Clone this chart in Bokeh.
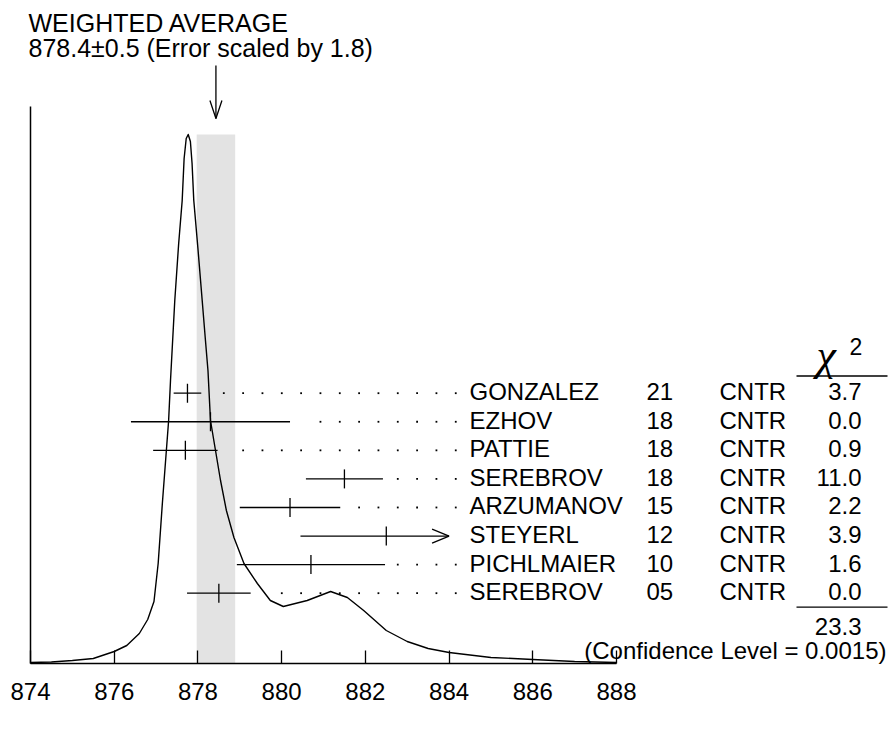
from bokeh.plotting import figure
from bokeh.models import Range1d, LinearAxis, FixedTicker
from bokeh.core.properties import value
from bokeh.embed import file_html
from bokeh.resources import INLINE

# ---------------- data ----------------
names = ["GONZALEZ", "EZHOV", "PATTIE", "SEREBROV", "ARZUMANOV", "STEYERL", "PICHLMAIER", "SEREBROV"]
years = ["21", "18", "18", "18", "15", "12", "10", "05"]
techs = ["CNTR", "CNTR", "CNTR", "CNTR", "CNTR", "CNTR", "CNTR", "CNTR"]
meas = [877.75, 878.3, 877.7, 881.5, 880.2, 882.5, 880.7, 878.5]
errs = [0.33, 1.9, 0.77, 0.92, 1.2, 2.05, 1.77, 0.76]
chi2 = ["3.7", "0.0", "0.9", "11.0", "2.2", "3.9", "1.6", "0.0"]
chi2_total = "23.3"
conf_text = "(Confidence Level = 0.0015)"
avg_value = 878.43
avg_err = 0.46
title1 = "WEIGHTED AVERAGE"
title2 = "878.4\u00b10.5 (Error scaled by 1.8)"
ticks = [874, 876, 878, 880, 882, 884, 886, 888]

# ideogram curve (x in units of the axis, height in arbitrary units)
curve_x = [874.0, 874.5, 875.0, 875.5, 876.0, 876.3, 876.6, 876.8, 876.95, 877.05, 877.15,
           877.30, 877.345, 877.447, 877.54, 877.624, 877.67, 877.72, 877.768, 877.82,
           877.86, 877.901, 878.0, 878.102, 878.18, 878.24, 878.30, 878.42, 878.54, 878.68,
           878.86, 879.10, 879.42, 879.73, 880.04, 880.61, 881.17, 881.57, 881.96, 882.5,
           883.0, 883.5, 884.0, 885.0, 886.0, 887.0, 888.0]
curve_y = [1, 1.5, 3, 5, 12, 18, 30, 44, 62, 100, 160,
           243, 283, 363, 420, 463, 505, 525, 529, 522,
           500, 463, 415, 363, 323, 293, 243, 213, 183, 153,
           126, 100, 80, 63, 57, 63, 72, 66, 53, 33,
           22, 15, 11, 6, 4, 2, 1]

# ---------------- layout helpers (page pixel -> plot coordinates) ----------------
PXU = 41.857          # pixels per axis unit
def X(ix):
    return 874 + (ix - 30) / PXU
def Y(iy):
    return 663 - iy

SH = 9   # baseline correction for text glyphs (px)
def TY(iy):
    return Y(iy) + SH

W, H = 888, 729
FONT = value("Liberation Sans")
FS = value("24px")

p = figure(width=W, height=H, output_backend="svg", toolbar_location=None,
           x_range=Range1d(X(0), X(W)), y_range=Range1d(Y(H), Y(0)),
           x_axis_type=None, y_axis_type=None,
           min_border_left=0, min_border_right=0, min_border_top=0, min_border_bottom=0)
p.outline_line_color = None
p.background_fill_color = "white"
p.border_fill_color = "white"

axis = LinearAxis(ticker=FixedTicker(ticks=ticks), bounds=(ticks[0], ticks[-1]), fixed_location=0,
                  major_tick_in=13, major_tick_out=0, minor_tick_line_color=None,
                  axis_line_width=1.5, axis_line_color="black",
                  major_tick_line_width=1.3, major_tick_line_color="black",
                  major_label_text_font="Liberation Sans", major_label_text_font_size="24px",
                  major_label_text_color="black", major_label_standoff=19)
p.add_layout(axis, "below")

# left axis line
p.segment(x0=[ticks[0]], y0=[0], x1=[ticks[0]], y1=[Y(106)], line_color="black", line_width=1.5)

# weighted-average band
peak = max(curve_y)
p.quad(left=[avg_value - avg_err], right=[avg_value + avg_err], bottom=[0], top=[peak],
       fill_color="#e3e3e3", line_color=None)

# ideogram
p.line(curve_x, curve_y, line_color="black", line_width=1.4, line_join="round")

# arrow marking the average
ah = 6 / PXU
p.segment(x0=[avg_value], y0=[Y(65)], x1=[avg_value], y1=[Y(118)], line_color="black", line_width=1.3)
p.segment(x0=[avg_value - ah, avg_value + ah], y0=[Y(100), Y(100)],
          x1=[avg_value, avg_value], y1=[Y(118), Y(118)], line_color="black", line_width=1.3)

# measurements
row0 = Y(392.7)
dy = 28.57
rows = [row0 - i * dy for i in range(len(names))]
clip = 884.0
dot_start = X(223.3)
dot_step = 19.33 / PXU
dot_grid = [dot_start + k * dot_step for k in range(13)]

seg_x0, seg_x1, seg_y = [], [], []
tk_x, tk_y0, tk_y1 = [], [], []
dots_x, dots_y = [], []
arr_x0, arr_y0, arr_x1, arr_y1 = [], [], [], []
for v, e, r in zip(meas, errs, rows):
    lo, hi = v - e, v + e
    right = min(hi, clip)
    seg_x0.append(lo); seg_x1.append(right); seg_y.append(r)
    tk_x.append(v); tk_y0.append(r - 9.5); tk_y1.append(r + 9.5)
    if hi > clip:
        back = 17 / PXU
        arr_x0 += [clip - back, clip - back]
        arr_y0 += [r + 7, r - 7]
        arr_x1 += [clip, clip]
        arr_y1 += [r, r]
    for d in dot_grid:
        if d >= right + 0.29:
            dots_x.append(d); dots_y.append(r)

p.segment(x0=seg_x0, y0=seg_y, x1=seg_x1, y1=seg_y, line_color="black", line_width=1.3)
p.segment(x0=tk_x, y0=tk_y0, x1=tk_x, y1=tk_y1, line_color="black", line_width=1.3)
p.segment(x0=arr_x0, y0=arr_y0, x1=arr_x1, y1=arr_y1, line_color="black", line_width=1.3)
p.scatter(dots_x, dots_y, marker="square", size=1.8, fill_color="black", line_color=None)

# text columns
base = [r - 7.5 + SH for r in rows]
p.text(x=[X(469)] * len(names), y=base, text=names, text_font=FONT, text_font_size=FS,
       text_baseline="alphabetic", text_align="left", text_color="black")
p.text(x=[X(646)] * len(years), y=base, text=years, text_font=FONT, text_font_size=FS,
       text_baseline="alphabetic", text_align="left", text_color="black")
p.text(x=[X(719)] * len(techs), y=base, text=techs, text_font=FONT, text_font_size=FS,
       text_baseline="alphabetic", text_align="left", text_color="black")
p.text(x=[X(861)] * len(chi2), y=base, text=chi2, text_font=FONT, text_font_size=FS,
       text_baseline="alphabetic", text_align="right", text_color="black")

# chi^2 header and totals
p.text(x=[X(816)], y=[TY(364)], text=["\u03c7"], text_font=value("Liberation Serif"),
       text_font_style="italic", text_font_size=value("44px"), text_baseline="alphabetic",
       text_align="left", text_color="black")
p.text(x=[X(849)], y=[TY(355)], text=["2"], text_font=FONT, text_font_size=value("23px"),
       text_baseline="alphabetic", text_align="left", text_color="black")
p.segment(x0=[X(796), X(796)], y0=[Y(375.5), Y(606.7)], x1=[X(887), X(887)], y1=[Y(375.5), Y(606.7)],
          line_color="black", line_width=1.3)
p.text(x=[X(861)], y=[TY(635)], text=[chi2_total], text_font=FONT, text_font_size=FS,
       text_baseline="alphabetic", text_align="right", text_color="black")
p.text(x=[X(886)], y=[TY(659)], text=[conf_text], text_font=FONT, text_font_size=FS,
       text_baseline="alphabetic", text_align="right", text_color="black")

# title
p.text(x=[X(28), X(28)], y=[TY(31), TY(56)], text=[title1, title2], text_font=FONT,
       text_font_size=value("25px"), text_baseline="alphabetic", text_align="left", text_color="black")

open("out.html", "w").write(file_html(p, INLINE))
